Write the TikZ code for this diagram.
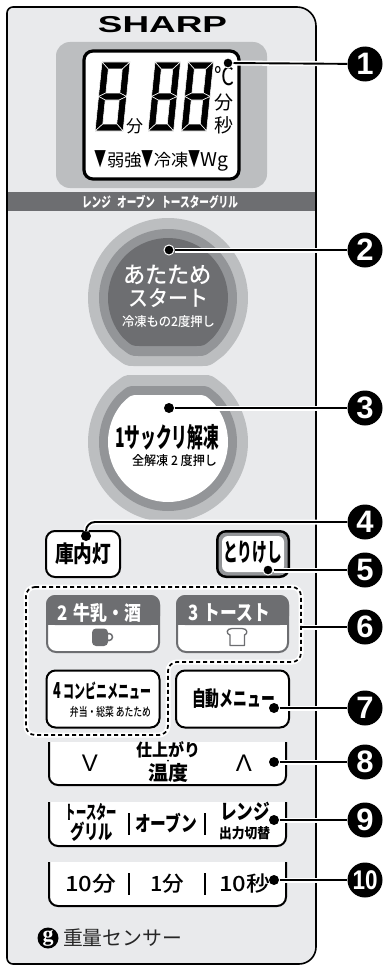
\documentclass[tikz,border=0pt]{standalone}
\usepackage{fontspec}
\usepackage{graphicx}
\setmainfont{Liberation Sans}
\newfontfamily\jp{Noto Sans CJK JP}
\newfontfamily\jpm{Noto Sans CJK JP Medium}
\newfontfamily\lserif{Liberation Serif}
\definecolor{panelc}{HTML}{E9EAEC}
\definecolor{darkc}{HTML}{6D6E71}
\definecolor{midc}{HTML}{939598}
\definecolor{lightc}{HTML}{BCBEC0}
\newcommand\fs[1]{\fontsize{#1}{#1}\selectfont}
\newcommand\wfit[2]{\resizebox{#1pt}{\height}{#2}}
\newcommand\flatcirc[6]{%
 \pgfmathsetmacro\fchw{sqrt(#3*#3-#4*#4)}%
 \pgfmathsetmacro\fcang{asin(#4/#3)-12}%
 \pgfmathsetmacro\fcx{#3*cos(\fcang)}%
 \pgfmathsetmacro\fcy{#3*sin(\fcang)}%
 \pgfmathsetmacro\fcs{-#5*\fcang}%
 \pgfmathsetmacro\fcd{#5*(180+2*\fcang)}%
 \fill[#6] ({#1+\fcx},{#2+#5*\fcy}) arc[start angle=\fcs,delta angle=\fcd,radius=#3pt]
   .. controls ({#1-\fchw},{#2+#5*#4}) .. ({#1-\fchw+8},{#2+#5*#4})
   -- ({#1+\fchw-8},{#2+#5*#4})
   .. controls ({#1+\fchw},{#2+#5*#4}) .. cycle;}
\newcommand\sevenseg[3]{%
 \begin{scope}[shift={(#1,#2)},xslant=0.1,
   every path/.style={fill=black,draw=white,line width=.55pt}]
 \def\W{#3}\def\H{69}\def\T{7}
 \pgfmathsetmacro\Wt{\W-\T}\pgfmathsetmacro\Hm{\H/2}
 \pgfmathsetmacro\Hu{\H/2-\T/2}\pgfmathsetmacro\Hl{\H/2+\T/2}\pgfmathsetmacro\Hb{\H-\T}
 \path (0,0)--(\W,0)--(\Wt,\T)--(\T,\T)--cycle;
 \path (0,0)--(\T,\T)--(\T,\Hu)--(0,\Hm)--cycle;
 \path (\W,0)--(\W,\Hm)--(\Wt,\Hu)--(\Wt,\T)--cycle;
 \path (0,\Hm)--(\T,\Hu)--(\Wt,\Hu)--(\W,\Hm)--(\Wt,\Hl)--(\T,\Hl)--cycle;
 \path (0,\Hm)--(\T,\Hl)--(\T,\Hb)--(0,\H)--cycle;
 \path (\W,\Hm)--(\W,\H)--(\Wt,\Hb)--(\Wt,\Hl)--cycle;
 \path (0,\H)--(\T,\Hb)--(\Wt,\Hb)--(\W,\H)--cycle;
 \end{scope}}
\newcommand\bracketbtn[2]{\draw[black,fill=white,line width=2pt,rounded corners=9pt] (49,#1)--(49,#2)--(286,#2)--(286,#1);}
\newcommand\leaderline[2]{%
 \draw[white,line width=5pt] (#1)--(#2);
 \draw[black,line width=1.9pt] (#1)--(#2);}
\tikzset{
 txt/.style={inner sep=0pt,font=\jp,text=black,align=center},
 wtxt/.style={inner sep=0pt,font=\jp,text=white,align=center},
 dotn/.style={circle,fill=black,draw=white,line width=1pt,inner sep=0pt,minimum size=10pt},
 callout/.style={circle,fill=black,inner sep=0pt,minimum size=35pt,text=white,font=\fs{31}\bfseries},
 roundbtn/.style={draw=black,fill=white,line width=2pt,rounded corners=9pt,inner sep=0pt,font=\jp\bfseries,text=black,align=center},
 sep/.style={black,line width=1.7pt},
}
\begin{document}
\begin{tikzpicture}[x=1pt,y=-1pt]
\useasboundingbox (0,0) rectangle (385,966);
\fill[white] (0,0) rectangle (385,966);
% panel
\draw[black,fill=panelc,line width=1.6pt] (13,7) -- (297,7) arc[start angle=90,end angle=0,radius=19pt]
  -- (316,947) arc[start angle=0,end angle=-90,radius=17pt] -- (13,964)
  arc[start angle=270,end angle=180,radius=6pt] -- (7,13) arc[start angle=180,end angle=90,radius=6pt] -- cycle;
\node[inner sep=0pt,font=\fs{23}\bfseries] (logo) at (162.5,25) {\resizebox{129pt}{\height}{SHARP}};
% display
\fill[lightc,rounded corners=14pt] (56,42) rectangle (267,188);
\draw[black,fill=white,line width=3.2pt,rounded corners=9pt] (84,51) rectangle (239,179);
\sevenseg{102}{62}{28}
\sevenseg{155}{62}{25.5}
\sevenseg{188}{62}{25.5}
\node[txt,font=\jp\fs{17}] (dfun) at (134.5,126) {分};
\node[txt,font=\jp\fs{25}] (ddeg) at (224,76) {\resizebox{20pt}{\height}{℃}};
\node[txt,font=\jp\fs{19}] (rfun) at (224,102) {分};
\node[txt,font=\jp\fs{19}] (rsec) at (224,125) {秒};
\node[txt,font=\jp\fs{17}] (dline) at (161.5,161) {\wfit{133}{\scalebox{.7}[1.25]{▼}弱強\scalebox{.7}[1.25]{▼}冷凍\scalebox{.7}[1.25]{▼}{\fontsize{19}{19}\selectfont Wg}}};
% band
\fill[darkc] (7.8,192) rectangle (315.2,211);
\node[wtxt,font=\jp\bfseries\fs{14}] (band) at (160,202) {\wfit{156}{レンジ\hspace{9pt}オーブン\hspace{9pt}トースターグリル}};
% start button
\flatcirc{168}{298}{80}{68}{1}{lightc}
\flatcirc{168}{298}{69}{58}{1}{midc}
\flatcirc{168}{298}{60}{48}{1}{darkc}
\node[wtxt,font=\jpm\fs{23}] (st1) at (167.5,275) {\wfit{89}{あたため}};
\node[wtxt,font=\jpm\fs{22}] (st2) at (168,298) {\wfit{80}{スタート}};
\node[wtxt,font=\jpm\fs{13}] (st3) at (168.5,322) {\wfit{93}{冷凍もの2度押し}};
% defrost button
\flatcirc{168}{442}{80}{67}{-1}{lightc}
\flatcirc{168}{442}{69}{56}{-1}{midc}
\flatcirc{168}{442}{60}{47}{-1}{white}
\node[txt,font=\jp\bfseries\fs{27}] (de1) at (167,437) {\wfit{104}{1サックリ解凍}};
\node[txt,font=\jpm\fs{13}] (de2) at (174.5,461) {\wfit{85}{全解凍 2 度押し}};
% small buttons
\node[roundbtn,minimum width=74pt,minimum height=46pt] (lamp) at (83,554) {\fs{23}\wfit{56}{庫内灯}};
\fill[black,rounded corners=10pt] (216,530) rectangle (290,578);
\fill[midc,rounded corners=8pt] (218.5,532.5) rectangle (287.5,575.5);
\fill[white,rounded corners=6pt] (222,536) rectangle (284,572);
\node[txt,font=\jp\bfseries\fs{25}] (cancel) at (252.5,552) {\wfit{59}{とりけし}};
% dashed group
\draw[white,line width=5pt,rounded corners=9pt] (26,587)--(301,587)--(301,662)--(168,662)--(168,735)--(26,735)--cycle;
\draw[black,line width=1.7pt,dash pattern=on 4pt off 3pt,rounded corners=9pt] (26,587)--(301,587)--(301,662)--(168,662)--(168,735)--(26,735)--cycle;
% milk / toast
\draw[darkc,fill=white,line width=2pt,rounded corners=9pt] (47,596) rectangle (159,652);
\fill[darkc,rounded corners=9pt] (46,595) -- (46,625) -- (160,625) -- (160,595) -- cycle;
\fill[darkc] (46,615) rectangle (160,625);
\draw[darkc,fill=white,line width=2pt,rounded corners=9pt] (177,596) rectangle (288,652);
\fill[darkc,rounded corners=9pt] (176,595) -- (176,625) -- (289,625) -- (289,595) -- cycle;
\fill[darkc] (176,615) rectangle (289,625);
\node[wtxt,font=\jp\bfseries\fs{20}] (milk) at (99,613) {\wfit{84}{2\hspace{7pt}牛乳・酒}};
\node[wtxt,font=\jp\bfseries\fs{21}] (toast) at (229,613) {\wfit{82}{3\hspace{7pt}トースト}};
\draw[darkc,line width=1.5pt] (109,637) circle[radius=3.5pt];
\fill[darkc,rounded corners=4pt] (92,628.5) rectangle (108,646);
\draw[darkc,fill=white,line width=1.3pt,line join=round] (230,635) .. controls (226,634) and (226,628.5) .. (232,628.5)
  -- (242,628.5) .. controls (248,628.5) and (248,634) .. (244.5,635) -- (244.5,645.5) -- (230,645.5) -- cycle;
% combini + auto
\node[roundbtn,minimum width=113pt,minimum height=57pt] (combi) at (103,699) {};
\node[txt,font=\jp\bfseries\fs{19}] (combi1) at (102.5,691) {\wfit{97}{{\fs{22}4}\hspace{3pt}コンビニメニュー}};
\node[txt,font=\jpm\fs{12}] (combi2) at (110.5,712) {\wfit{81}{弁当・総菜 あたため}};
\node[roundbtn,minimum width=113pt,minimum height=57pt] (auto) at (232.5,699) {};
\node[txt,font=\jp\bfseries\fs{21}] (auto1) at (233.5,699) {\wfit{83}{自動メニュー}};
% bracket buttons
\bracketbtn{742}{785}
\bracketbtn{802}{846}
\bracketbtn{862}{906}
\node[txt,font=\fs{24}] (down) at (90,763) {V};
\node[txt,font=\fs{24}] (up) at (244,763) {Λ};
\node[txt,font=\jp\bfseries\fs{17}] (fin1) at (168,750) {\wfit{64}{仕上がり}};
\node[txt,font=\jp\bfseries\fs{20}] (fin2) at (168,773) {\wfit{40}{温度}};
\fill[black] (168,760.5) circle[radius=1pt];
\node[txt,font=\jp\bfseries\fs{19}] (g1) at (91.5,812) {\wfit{51}{トースター}};
\node[txt,font=\jp\bfseries\fs{20}] (g2) at (91.5,832) {\wfit{43}{グリル}};
\draw[sep] (129,813)--(129,835);
\node[txt,font=\jp\bfseries\fs{21}] (oven) at (166,823) {\wfit{62}{オーブン}};
\draw[sep] (205,813)--(205,835);
\node[txt,font=\jp\bfseries\fs{21}] (r1) at (245,811) {\wfit{50}{レンジ}};
\node[txt,font=\jp\bfseries\fs{14}] (r2) at (244.5,833) {\wfit{51}{出力切替}};
\node[txt,font=\jpm\fs{21}] (t1) at (90.5,884) {\wfit{51}{10分}};
\draw[sep] (129,873)--(129,895);
\node[txt,font=\jpm\fs{21}] (t2) at (167,884) {\wfit{34}{1分}};
\draw[sep] (205,873)--(205,895);
\node[txt,font=\jpm\fs{21}] (t3) at (244.5,884) {\wfit{51}{10秒}};
% sensor
\node[circle,fill=black,inner sep=0pt,minimum size=21pt,text=white,font=\lserif\fs{22}\bfseries] (glogo) at (48,938) {g};
\node[txt,font=\jp\fs{20},text=black!85] (sensor) at (122.5,938) {\wfit{119}{重量センサー}};
% callouts
\node[callout] (c1) at (365,64) {1};
\node[callout] (c2) at (365,250) {2};
\node[callout] (c3) at (365,408) {3};
\node[callout] (c4) at (365,522) {4};
\node[callout] (c5) at (365,570) {5};
\node[callout] (c6) at (365,627) {6};
\node[callout] (c7) at (365,708) {7};
\node[callout] (c8) at (365,762) {8};
\node[callout] (c9) at (365,820) {9};
\node[callout,font=\fs{27}\bfseries] (c10) at (365,880) {\resizebox{25pt}{\height}{10}};
% dots
\node[dotn] (d1) at (228,63) {};
\node[dotn] (d2) at (169,250) {};
\node[dotn,draw=none] (d3) at (169,408) {};
\node[dotn,draw=none] (d4) at (86,536) {};
\node[dotn] (d5) at (268,570) {};
\coordinate (d6) at (302,627);
\node[dotn,draw=none] (d7) at (274,708) {};
\node[dotn,draw=none] (d8) at (274,762) {};
\node[dotn,draw=none] (d9) at (274,820) {};
\node[dotn,draw=none] (d10) at (274,880) {};
% leaders
\leaderline{d1}{c1}
\leaderline{d2}{c2}
\leaderline{d3}{c3}
\draw[white,line width=5pt,rounded corners=9pt] (d4) |- (c4);
\draw[black,line width=1.9pt,rounded corners=9pt] (d4) |- (c4);
\leaderline{d5}{c5}
\leaderline{d6}{c6}
\leaderline{d7}{c7}
\leaderline{d8}{c8}
\leaderline{d9}{c9}
\leaderline{d10}{c10}
\end{tikzpicture}
\end{document}
